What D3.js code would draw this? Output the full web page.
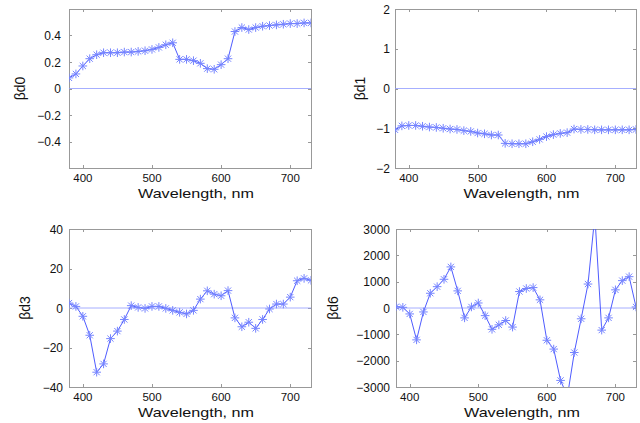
<!DOCTYPE html>
<html>
<head>
<meta charset="utf-8">
<script src="https://cdn.jsdelivr.net/npm/d3@7"></script>
<style>
  body { margin: 0; background: #fff; }
  svg { display: block; }
  text { font-family: "Liberation Sans", Arial, sans-serif; fill: #111; }
</style>
</head>
<body>
<script>
// wavelengths, nm (380..730 every 10)
const wavelengths = [380, 390, 400, 410, 420, 430, 440, 450, 460, 470, 480, 490,
                     500, 510, 520, 530, 540, 550, 560, 570, 580, 590, 600, 610,
                     620, 630, 640, 650, 660, 670, 680, 690, 700, 710, 720, 730];

const bd0 = [0.08, 0.11, 0.17, 0.225, 0.255, 0.27, 0.27, 0.27, 0.275, 0.275, 0.28, 0.285,
             0.295, 0.31, 0.33, 0.345, 0.22, 0.22, 0.21, 0.19, 0.15, 0.145, 0.18, 0.225,
             0.43, 0.46, 0.445, 0.46, 0.47, 0.475, 0.48, 0.485, 0.49, 0.49, 0.495, 0.495];

const bd1 = [-1.04, -0.94, -0.93, -0.93, -0.95, -0.97, -0.98, -1.0, -1.02, -1.03, -1.06, -1.08,
             -1.12, -1.14, -1.17, -1.17, -1.38, -1.39, -1.39, -1.39, -1.34, -1.28, -1.21, -1.16,
             -1.13, -1.11, -1.02, -1.03, -1.03, -1.04, -1.04, -1.04, -1.04, -1.04, -1.04, -1.03];

const bd3 = [2.5, 0.8, -4.2, -13.8, -32.5, -28.3, -15.5, -11.7, -5.8, 1.2, 0.3, -0.2,
             0.8, 0.8, -0.2, -1.2, -2.2, -3, -1.2, 4.5, 8.7, 7, 6.2, 8.8,
             -5, -9.5, -7.2, -10.3, -5.8, -0.5, 2, 2, 5.5, 13.8, 15, 14];

const bd6 = [50, 25, -225, -1210, -150, 560, 810, 1090, 1560, 650, -375, 40,
             190, -290, -810, -640, -475, -725, 625, 740, 775, 310, -1225, -1560,
             -2750, -3350, -1690, -410, 910, 3500, -840, -375, 690, 1040, 1190, 40];

const xTicks = [400, 500, 600, 700];
const yTicks0 = [-0.4, -0.2, 0, 0.2, 0.4];
const yTicks1 = [-2, -1, 0, 1, 2];
const yTicks3 = [-40, -20, 0, 20, 40];
const yTicks6 = [-3000, -2000, -1000, 0, 1000, 2000, 3000];

const W = 640, H = 423;
const lineColor = "#4f5cff";
const markColor = "#7584ff";
const axisColor = "#999";

const panels = [
  {name: "βd0", values: bd0, ticks: yTicks0, dom: [-0.6, 0.6], box: [69, 311, 9, 168], labX: 20, tickRight: 61},
  {name: "βd1", values: bd1, ticks: yTicks1, dom: [-2, 2], box: [395, 636, 9, 168], labX: 360, tickRight: 390},
  {name: "βd3", values: bd3, ticks: yTicks3, dom: [-40, 40], box: [69, 311, 229, 387], labX: 25, tickRight: 63},
  {name: "βd6", values: bd6, ticks: yTicks6, dom: [-3000, 3000], box: [396, 636, 229, 387], labX: 333, tickRight: 390}
];

const svg = d3.select("body").append("svg")
  .attr("width", W).attr("height", H);

// asterisk marker: plus and cross combined
function asterisk(r) {
  const d = r * 0.72;
  return `M${-r},0L${r},0M0,${-r}L0,${r}M${-d},${-d}L${d},${d}M${-d},${d}L${d},${-d}`;
}

function fmt(v) {
  return String(v).replace("-", "\u2212");
}

panels.forEach(function(p, k) {
  const [x0, x1, y0, y1] = p.box;
  const x = d3.scaleLinear().domain([380, 730]).range([x0, x1]);
  const y = d3.scaleLinear().domain(p.dom).range([y1, y0]);

  const g = svg.append("g");

  g.append("clipPath").attr("id", "clip" + k)
    .append("rect").attr("x", x0).attr("y", y0)
    .attr("width", x1 - x0).attr("height", y1 - y0);

  // frame
  g.append("rect")
    .attr("x", x0 + 0.5).attr("y", y0 + 0.5)
    .attr("width", x1 - x0).attr("height", y1 - y0)
    .attr("fill", "none").attr("stroke", axisColor).attr("stroke-width", 1);

  // ticks inside, on all sides
  xTicks.forEach(function(t) {
    const px = Math.round(x(t)) + 0.5;
    g.append("line").attr("x1", px).attr("x2", px).attr("y1", y1).attr("y2", y1 - 3)
      .attr("stroke", axisColor);
    g.append("line").attr("x1", px).attr("x2", px).attr("y1", y0).attr("y2", y0 + 3)
      .attr("stroke", axisColor);
    g.append("text").attr("x", x(t)).attr("y", y1 + 14)
      .attr("text-anchor", "middle").attr("font-size", 11.5).text(t);
  });
  p.ticks.forEach(function(t) {
    const py = Math.round(y(t)) + 0.5;
    g.append("line").attr("x1", x0).attr("x2", x0 + 3).attr("y1", py).attr("y2", py)
      .attr("stroke", axisColor);
    g.append("line").attr("x1", x1).attr("x2", x1 - 3).attr("y1", py).attr("y2", py)
      .attr("stroke", axisColor);
    g.append("text").attr("x", p.tickRight).attr("y", y(t) + 4.5)
      .attr("text-anchor", "end").attr("font-size", 12).text(fmt(t));
  });

  // axis labels
  g.append("text")
    .attr("x", (x0 + x1) / 2 + 6).attr("y", y1 + 29.5)
    .attr("text-anchor", "middle").attr("font-size", 13.5)
    .attr("textLength", 116).attr("lengthAdjust", "spacingAndGlyphs")
    .text("Wavelength, nm");
  g.append("text")
    .attr("transform", `translate(${p.labX},${(y0 + y1) / 2}) rotate(-90)`)
    .attr("text-anchor", "middle").attr("dy", "0.35em").attr("font-size", 14)
    .text(p.name);

  const plot = g.append("g").attr("clip-path", `url(#clip${k})`);

  // zero line
  plot.append("line")
    .attr("x1", x0).attr("x2", x1)
    .attr("y1", y(0)).attr("y2", y(0))
    .attr("stroke", "#8f9bff").attr("stroke-width", 0.8);

  const pts = wavelengths.map((w, i) => [w, p.values[i]]);

  plot.append("path")
    .datum(pts)
    .attr("fill", "none")
    .attr("stroke", lineColor)
    .attr("stroke-width", 1)
    .attr("d", d3.line().x(d => x(d[0])).y(d => y(d[1])));

  plot.selectAll("path.mark")
    .data(pts).enter().append("path")
    .attr("class", "mark")
    .attr("transform", d => `translate(${x(d[0])},${y(d[1])})`)
    .attr("d", asterisk(4.3))
    .attr("fill", "none")
    .attr("stroke", markColor)
    .attr("stroke-width", 1);
});
</script>
</body>
</html>
